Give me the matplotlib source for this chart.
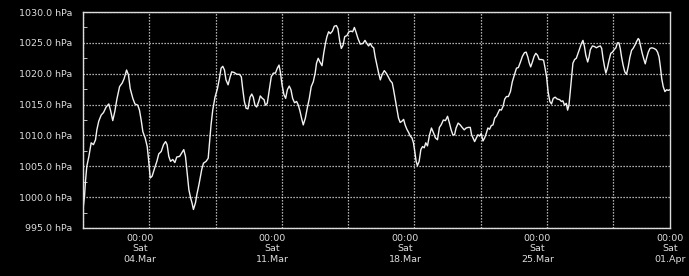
import matplotlib

matplotlib.use("Agg")
import matplotlib.dates as mdates
import matplotlib.pyplot as plt
import pandas as pd
from matplotlib.ticker import FuncFormatter, MultipleLocator

# hours are kept as fractional days since 01.Mar 00:00
start = pd.Timestamp("2023-03-01 00:00")
end = pd.Timestamp("2023-04-01 00:00")

days = [
    0.00, 0.08, 0.13, 0.20, 0.31, 0.43, 0.55, 0.66, 0.73, 0.83, 0.96, 1.08,
    1.22, 1.36, 1.45, 1.57, 1.68, 1.79, 1.93, 2.07, 2.17, 2.30, 2.40, 2.49,
    2.63, 2.74, 2.89, 2.98, 3.07, 3.16, 3.28, 3.39, 3.46, 3.55, 3.65, 3.77,
    3.90, 4.00, 4.13, 4.25, 4.36, 4.44, 4.53, 4.62, 4.74, 4.85, 4.95, 5.10,
    5.24, 5.32, 5.41, 5.48, 5.59, 5.68, 5.76, 5.83, 5.94, 6.01, 6.12,
    6.27, 6.36, 6.50, 6.61, 6.68, 6.76, 6.85, 6.97, 7.10, 7.20, 7.29, 7.38,
    7.47, 7.55, 7.66, 7.77, 7.85, 7.98, 8.12, 8.26, 8.36, 8.43, 8.52, 8.61,
    8.71, 8.82, 8.91, 8.99, 9.08, 9.17, 9.28, 9.36, 9.47, 9.56, 9.63, 9.73,
    9.84, 9.94, 10.05, 10.16, 10.26, 10.35, 10.42, 10.51, 10.61, 10.70,
    10.79, 10.89, 10.98, 11.07, 11.17, 11.28, 11.37, 11.46, 11.54, 11.63,
    11.74, 11.84, 11.95, 12.05, 12.16, 12.26, 12.33, 12.42, 12.51,
    12.62, 12.71, 12.80, 12.88, 12.97, 13.06, 13.17, 13.27, 13.38, 13.46,
    13.55, 13.64, 13.73, 13.82, 13.94, 14.04, 14.15, 14.24, 14.33, 14.41,
    14.52, 14.64, 14.78, 14.89, 14.99, 15.08, 15.17, 15.26, 15.35, 15.43,
    15.52, 15.61, 15.70, 15.80, 15.91, 16.01, 16.12, 16.22, 16.33, 16.40,
    16.49, 16.58, 16.66, 16.75, 16.84, 16.93, 17.01, 17.10, 17.19, 17.28,
    17.37, 17.45, 17.52, 17.59, 17.66, 17.75, 17.84, 17.93, 18.02, 18.10,
    18.19, 18.30, 18.40, 18.51, 18.61, 18.72,
    18.82, 18.91, 19.03, 19.14, 19.25, 19.35, 19.44, 19.53, 19.62, 19.70,
    19.81, 19.92, 20.02, 20.13, 20.23, 20.34, 20.45, 20.52, 20.59, 20.68,
    20.77, 20.85, 20.94, 21.03, 21.12, 21.21, 21.30, 21.38, 21.47, 21.56,
    21.65, 21.74, 21.83, 21.91, 22.00, 22.09, 22.18, 22.27, 22.36, 22.46,
    22.57, 22.67, 22.78, 22.89, 22.99, 23.10, 23.20, 23.31, 23.40, 23.49,
    23.56, 23.64, 23.73, 23.82, 23.91, 24.00, 24.09, 24.21, 24.32, 24.40,
    24.48, 24.56, 24.65, 24.74, 24.83, 24.93, 25.04,
    25.17, 25.26, 25.34, 25.43, 25.52, 25.59, 25.66, 25.73, 25.80, 25.87,
    25.96, 26.05, 26.14, 26.23, 26.32, 26.40, 26.48, 26.55, 26.65, 26.72,
    26.79, 26.90, 27.01, 27.11, 27.22, 27.32, 27.39, 27.46, 27.54, 27.61,
    27.69, 27.78, 27.87, 27.96, 28.05, 28.14, 28.22, 28.30, 28.37, 28.44,
    28.52, 28.61, 28.70, 28.79, 28.88, 28.97, 29.05, 29.14, 29.23, 29.32,
    29.37, 29.44, 29.53, 29.62, 29.69, 29.76, 29.85, 29.94, 30.04, 30.15,
    30.26, 30.34, 30.42, 30.49, 30.56, 30.64, 30.73, 30.82, 30.91, 30.98,
]

pressure_hpa = [
    998.0, 1000.2, 1002.6, 1005.0, 1006.6, 1008.8, 1008.5, 1009.3, 1010.9,
    1012.3, 1013.3, 1013.7, 1014.6, 1015.1, 1014.1, 1012.4, 1013.9, 1015.9,
    1017.9, 1018.5, 1019.2, 1020.6, 1019.8, 1017.6, 1016.0, 1015.1, 1014.9,
    1014.1, 1012.5, 1010.6, 1009.6, 1008.2, 1006.1, 1003.1, 1003.4, 1004.6,
    1005.8, 1007.0, 1007.4, 1008.5, 1009.0, 1008.5, 1006.6, 1005.8, 1006.1,
    1005.6, 1006.5, 1006.6, 1007.3, 1007.7, 1006.6, 1004.5, 1001.2, 999.9,
    999.0, 998.0, 999.1, 1000.4, 1002.0,
    1004.5, 1005.5, 1005.8, 1006.3, 1008.8, 1011.7, 1014.1, 1016.2, 1017.6,
    1019.2, 1020.9, 1021.2, 1020.6, 1019.0, 1018.2, 1019.5, 1020.3, 1020.2,
    1019.9, 1019.9, 1019.5, 1017.6, 1015.5, 1014.4, 1014.3, 1016.2, 1016.7,
    1016.2, 1014.9, 1014.6, 1015.5, 1016.4, 1016.0, 1015.8, 1014.9, 1015.2,
    1017.4, 1019.5, 1020.1, 1020.1, 1020.9, 1021.4, 1020.3, 1018.2, 1016.6,
    1016.0, 1017.4, 1018.0, 1017.4, 1016.0, 1015.3, 1015.5, 1014.9, 1013.9,
    1012.8, 1011.7, 1012.8, 1014.4, 1016.0, 1017.9, 1018.7, 1020.1, 1021.7,
    1022.5, 1021.9,
    1021.3, 1023.3, 1024.9, 1026.0, 1026.8, 1026.5, 1026.9, 1027.7, 1027.8,
    1027.3, 1025.4, 1024.1, 1024.6, 1026.0, 1026.2, 1026.8, 1026.9, 1026.8,
    1027.5, 1026.8, 1025.7, 1024.8, 1024.9, 1025.4, 1024.9, 1024.5, 1024.9,
    1024.4, 1024.2, 1022.7, 1021.4, 1020.1, 1019.0, 1019.9, 1020.5, 1020.1,
    1019.5, 1018.9, 1018.5, 1017.4, 1015.8, 1014.1, 1012.8, 1012.1, 1012.3,
    1012.6, 1011.7, 1011.0, 1010.5, 1009.9, 1009.6, 1008.8, 1007.4, 1005.8,
    1005.1, 1005.8, 1007.7, 1008.2, 1008.0, 1008.8, 1008.3, 1010.1, 1011.2,
    1010.4, 1009.6, 1009.3,
    1011.3, 1011.7, 1012.5, 1012.4, 1013.1, 1012.0, 1010.9, 1010.1, 1010.1,
    1011.2, 1012.0, 1011.7, 1011.3, 1010.9, 1011.2, 1011.3, 1011.3, 1010.1,
    1009.6, 1009.0, 1009.6, 1010.1, 1009.9, 1010.3, 1009.1, 1009.6, 1010.4,
    1011.2, 1011.0, 1011.6, 1011.7, 1012.8, 1013.1, 1013.6, 1014.2, 1014.1,
    1014.7, 1015.9, 1016.3, 1016.3, 1017.1, 1018.7, 1019.8, 1020.9, 1021.0,
    1021.9, 1022.8, 1023.4, 1023.5, 1022.7, 1021.8, 1021.1, 1021.9, 1022.8,
    1023.3, 1023.0, 1022.3, 1022.3, 1022.2, 1020.9, 1019.5, 1017.1, 1015.5,
    1015.1, 1016.0, 1016.2, 1015.9,
    1015.8, 1015.5, 1015.6, 1014.9, 1015.2, 1014.1, 1014.9, 1017.1, 1019.5,
    1021.7, 1022.3, 1022.5, 1023.3, 1024.1, 1024.9, 1025.4, 1024.4, 1023.0,
    1021.9, 1022.7, 1023.9, 1024.5, 1024.4, 1024.2, 1024.4, 1024.5, 1024.1,
    1022.5, 1021.1, 1020.1, 1020.9, 1022.2, 1023.3, 1023.5, 1023.9, 1024.2,
    1025.0, 1025.0, 1024.1, 1022.7, 1021.4, 1020.3, 1019.9, 1021.1, 1022.7,
    1023.8, 1024.1, 1024.6, 1025.2, 1025.7, 1025.5, 1024.5, 1023.3, 1022.3,
    1021.6, 1022.5, 1023.5, 1024.1, 1024.2, 1024.1, 1023.9, 1023.5, 1022.7,
    1021.1, 1019.2, 1017.9, 1017.1, 1017.4, 1017.3, 1017.4,
]

y_min, y_max = 995.0, 1030.0

fg = "#dcdcdc"
times = start + pd.to_timedelta(days, unit="D")

fig = plt.figure(figsize=(6.89, 2.76), dpi=100, facecolor="black")
ax = fig.add_axes([0.1205, 0.174, 0.852, 0.7825])
ax.set_facecolor("black")

ax.plot(times, pressure_hpa, color="#f2f2f2", linewidth=1.0)

ax.set_xlim(start, end)
ax.set_ylim(y_min, y_max)

# labels every Saturday, grid every 3.5 days
ax.xaxis.set_major_locator(mdates.WeekdayLocator(byweekday=mdates.SA))
ax.xaxis.set_major_formatter(mdates.DateFormatter("%H:%M\n%a\n%d.%b"))
ax.set_xticks(pd.date_range(start, end, freq="84h"), minor=True)
ax.yaxis.set_major_locator(MultipleLocator(5))
ax.yaxis.set_minor_locator(MultipleLocator(2.5))
ax.yaxis.set_major_formatter(FuncFormatter(lambda v, _: f"{v:.1f} hPa"))

grid_style = dict(color="white", linestyle=(0, (1, 1.4)), linewidth=0.9, alpha=0.9)
ax.grid(True, which="minor", axis="x", **grid_style)
ax.grid(True, which="major", axis="y", **grid_style)

ax.tick_params(axis="x", which="both", length=0, colors=fg, labelsize=6.8, pad=4)
ax.tick_params(axis="y", which="major", length=0, colors=fg, labelsize=6.8, pad=8)
ax.tick_params(axis="y", which="minor", direction="in", length=3, color=fg)
for label in ax.get_xticklabels():
    label.set_horizontalalignment("center")
    label.set_linespacing(1.25)

for spine in ax.spines.values():
    spine.set_color(fg)
    spine.set_linewidth(1.0)

fig.savefig("out.png", dpi=100, facecolor="black")
plt.close(fig)
